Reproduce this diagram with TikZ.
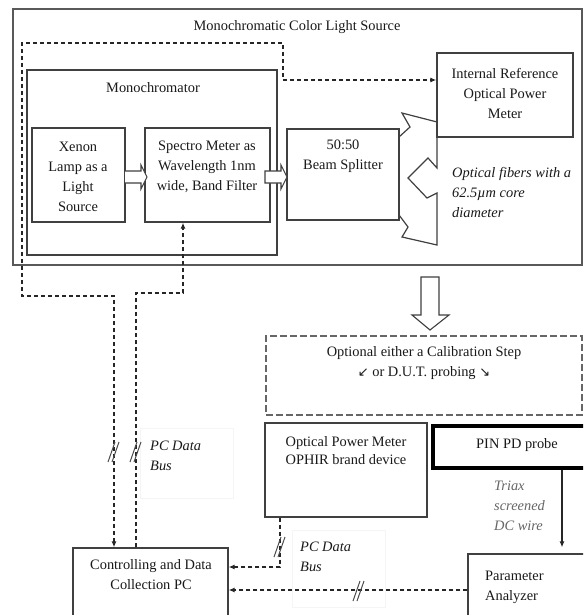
\documentclass[tikz,border=0pt]{standalone}
\usepackage{fontspec}
\setmainfont{Liberation Serif}
\newfontfamily\symfont{DejaVu Sans}
\usetikzlibrary{arrows.meta,fit}
\newcommand\dslash[2]{\draw[black!70, line width=1pt] (#1-6,#2+10) -- (#1+1,#2-10) (#1-2,#2+10) -- (#1+5,#2-10);}
\begin{document}
\begin{tikzpicture}[x=1pt,y=-1pt,
  box/.style={draw=black!75, line width=1.3pt, inner sep=0pt},
  txt/.style={font=\fontsize{14.4}{20}\selectfont, text=black!90, inner sep=0pt, align=center},
  itx/.style={txt, font=\fontsize{14.4}{20}\selectfont\itshape, align=left},
  dsh/.style={draw=black!85, line width=1.3pt, dash pattern=on 4pt off 3pt},
  hol/.style={draw=black!75, line width=1.1pt, fill=white},
  tip/.tip={Latex[length=6pt,width=5pt]}
]
\useasboundingbox (0,0) rectangle (583,615);
\clip (0,0) rectangle (583,615);
\fill[white] (0,0) rectangle (583,615);

% light source
\node[box, draw=black!65, line width=1.6pt, fit={(13,9)(582,265)}] (src) {};
\node[txt] (tsrc) at (297,27) {Monochromatic Color Light Source};
\node[box, fit={(27,70)(277,255)}] (mono) {};
\node[txt] (tmono) at (153,88) {Monochromator};
\node[box, fit={(32,128)(125,222)}] (xen) {};
\node[txt] (txen) at (78,177) {Xenon\\Lamp as a\\Light\\Source};
\node[box, fit={(145,128)(270,222)}] (spec) {};
\node[txt] (tspec) at (207,167) {Spectro Meter as\\Wavelength 1nm\\wide, Band Filter};
\node[box, fit={(287,129)(399,220)}] (bs) {};
\node[txt] (tbs) at (343,156) {50:50\\Beam Splitter};
\node[box, fit={(437,53)(573,137)}] (iref) {};
\node[txt] (tiref) at (505,94) {Internal Reference\\Optical Power\\Meter};
\node[itx, anchor=west] (tfib) at (452,193) {Optical fibers with a\\62.5µm core\\diameter};

% fibre split shape
\draw[line width=1.2pt, draw=black!75, line join=miter] (399,137) -- (410,127) -- (402,113) -- (437,122) -- (437,168) -- (428,158) -- (408,178) -- (427,198) -- (437,193) -- (437,245) -- (402,237) -- (408,227) -- (399,215);

% hollow arrows
\draw[hol] (125,171) -- (141,171) -- (141,165) -- (147,177) -- (141,189) -- (141,183) -- (125,183);
\draw[hol] (265,171) -- (281,171) -- (281,165) -- (287,177) -- (281,189) -- (281,183) -- (265,183) -- cycle;
\draw[hol] (421,277) -- (439,277) -- (439,315) -- (449,315) -- (430,330) -- (412,315) -- (421,315) -- cycle;

% optional
\node[box, draw=black!60, line width=1.2pt, dash pattern=on 7pt off 3pt, fit={(266,336)(582,415)}] (opt) {};
\node[txt] (topt) at (424,363) {Optional either a Calibration Step\\{\symfont\fontsize{13}{13}\selectfont ↙} or D.U.T. probing {\symfont\fontsize{13}{13}\selectfont ↘}};

\node[box, fit={(265,423)(427,517)}] (opm) {};
\node[txt, font=\fontsize{14.4}{18}\selectfont] (topm) at (346,451) {Optical Power Meter\\OPHIR brand device};
\node[box, draw=black, line width=4pt, fit={(433,425.5)(600,467.5)}] (pin) {};
\node[txt] (tpin) at (517,445) {PIN PD probe};
\node[itx, text=black!60, anchor=west] (ttri) at (494,506) {Triax\\screened\\DC wire};
\node[box, fit={(468,554)(600,630)}] (par) {};
\node[txt, align=left, anchor=west] (tpar) at (485,587) {Parameter\\Analyzer};
\node[box, fit={(73,548)(228,630)}] (pc) {};
\node[txt] (tpc) at (151,575) {Controlling and Data\\Collection PC};

% faint label frames
\node[draw=black!4, line width=0.8pt, inner sep=0pt, fit={(140,428)(233,498)}] (bus1box) {};
\node[itx, anchor=west] (tbus1) at (150,456) {PC Data\\Bus};
\node[draw=black!4, line width=0.8pt, inner sep=0pt, fit={(292,530)(385,607)}] (bus2box) {};
\node[itx, anchor=west] (tbus2) at (300,557) {PC Data\\Bus};

% connectors
\coordinate (xA) at (114,0);
\coordinate (xB) at (136,0);
\coordinate (xC) at (183,0);
\coordinate (xD) at (280,0);
\coordinate (xE) at (562,0);
\coordinate (yA) at (0,80);
\coordinate (yC) at (0,567);
\coordinate (yD) at (0,590);

\draw[dsh, tip-tip] (pc.north -| xA) |- (22,296) |- (283,43) |- (iref.west |- yA);
\draw[dsh, -tip] (pc.north -| xB) |- (183,293) -- (spec.south -| xC);
\draw[dsh, -tip] (opm.south -| xD) |- (pc.east |- yC);
\draw[dsh, -tip] (par.west |- yD) -- (pc.east |- yD);
\draw[line width=1.5pt, draw=black!85, -tip, shorten >=6pt] (pin.south -| xE) -- (par.north -| xE);

\dslash{114}{452}
\dslash{136}{452}
\dslash{280}{547}
\dslash{359}{591}
\end{tikzpicture}
\end{document}
